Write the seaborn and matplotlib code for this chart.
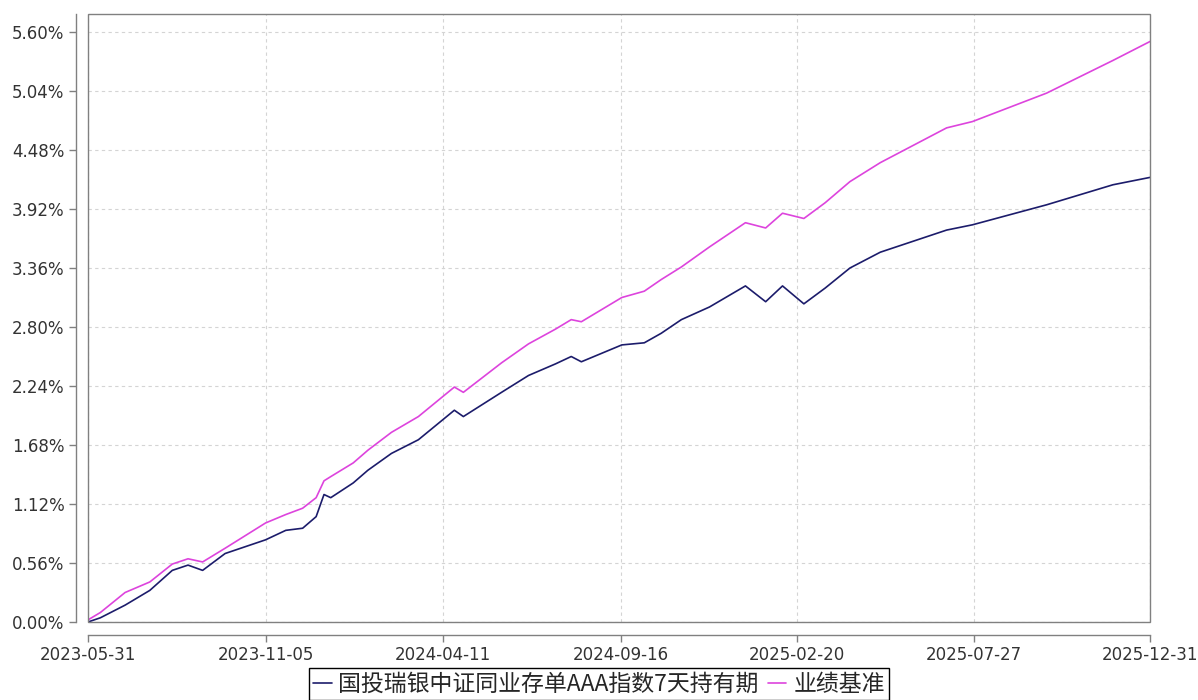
import matplotlib
matplotlib.use("Agg")
import matplotlib.pyplot as plt
from matplotlib.patches import Rectangle
from matplotlib.ticker import FuncFormatter
import numpy as np
import pandas as pd
import seaborn as sns

fund_name = "国投瑞银中证同业存单AAA指数7天持有期"
bench_name = "业绩基准"

dates = [
    "2023-05-31", "2023-06-11", "2023-07-03", "2023-07-25", "2023-08-14",
    "2023-08-28", "2023-09-10", "2023-09-30", "2023-11-05", "2023-11-23",
    "2023-12-08", "2023-12-20", "2023-12-27", "2024-01-02", "2024-01-22",
    "2024-02-04", "2024-02-25", "2024-03-20", "2024-04-21", "2024-04-29",
    "2024-06-02", "2024-06-26", "2024-07-20", "2024-08-03", "2024-08-12",
    "2024-09-17", "2024-10-07", "2024-10-22", "2024-11-09", "2024-12-04",
    "2025-01-05", "2025-01-23", "2025-02-07", "2025-02-26", "2025-03-17",
    "2025-04-08", "2025-05-05", "2025-07-03", "2025-07-26", "2025-09-30",
    "2025-11-28", "2025-12-31",
]
fund = [
    0.00, 0.04, 0.16, 0.30, 0.49, 0.54, 0.49, 0.65, 0.78, 0.87,
    0.89, 1.00, 1.21, 1.18, 1.32, 1.44, 1.60, 1.73, 2.01, 1.95,
    2.18, 2.34, 2.45, 2.52, 2.47, 2.63, 2.65, 2.74, 2.87, 2.99,
    3.19, 3.04, 3.19, 3.02, 3.17, 3.36, 3.51, 3.72, 3.77, 3.96,
    4.15, 4.22,
]
bench = [
    0.02, 0.09, 0.28, 0.38, 0.55, 0.60, 0.57, 0.70, 0.94, 1.02,
    1.08, 1.18, 1.34, 1.38, 1.51, 1.63, 1.80, 1.95, 2.23, 2.18,
    2.46, 2.64, 2.78, 2.87, 2.85, 3.08, 3.14, 3.25, 3.37, 3.56,
    3.79, 3.74, 3.88, 3.83, 3.98, 4.18, 4.36, 4.69, 4.75, 5.02,
    5.33, 5.51,
]
tick_dates = ["2023-05-31", "2023-11-05", "2024-04-11", "2024-09-16",
              "2025-02-20", "2025-07-27", "2025-12-31"]
y_ticks = [0.00, 0.56, 1.12, 1.68, 2.24, 2.80, 3.36, 3.92, 4.48, 5.04, 5.60]

sns.set_theme(style="white")
plt.rcParams["font.family"] = ["Noto Sans CJK SC", "DejaVu Sans"]

df = pd.DataFrame({"date": pd.to_datetime(dates), fund_name: fund, bench_name: bench})
long_df = df.melt(id_vars="date", var_name="series", value_name="value")

navy = "#1c1c6b"
magenta = "#dd44dd"

fig = plt.figure(figsize=(11.98, 7.0), dpi=100)
ax = fig.add_axes([88 / 1198, 78 / 700, 1062 / 1198, 608 / 700])

sns.lineplot(data=long_df, x="date", y="value", hue="series",
             palette=[navy, magenta], linewidth=1.2, ax=ax, legend=False)

ax.set_xlim(pd.Timestamp(dates[0]), pd.Timestamp(dates[-1]))
ax.set_ylim(0, 5.771)
ax.set_xticks(pd.to_datetime(tick_dates))
ax.set_xticklabels(tick_dates)
ax.set_yticks(y_ticks)
ax.yaxis.set_major_formatter(FuncFormatter(lambda v, p: f"{v:.2f}%"))
ax.set_xlabel("")
ax.set_ylabel("")

ax.grid(True, linestyle=(0, (3, 3)), color="#d4d4d4", linewidth=0.8)
for s in ["top", "right"]:
    ax.spines[s].set_visible(False)
for s in ["left", "bottom"]:
    ax.spines[s].set_position(("outward", 9))
    ax.spines[s].set_color("#808080")
    ax.spines[s].set_linewidth(1.0)
ax.add_patch(Rectangle((0, 0), 1, 1, transform=ax.transAxes, fill=False,
                       edgecolor="#808080", linewidth=1.0, clip_on=False, zorder=3))
ax.tick_params(axis="both", which="major", length=5, width=1, color="#808080",
               labelsize=12, labelcolor="#333333", direction="out",
               bottom=True, left=True, pad=3)
for lab in ax.get_xticklabels() + ax.get_yticklabels():
    lab.set_fontfamily("DejaVu Sans")

handles = ax.get_lines()[:2]
leg = fig.legend(handles, [fund_name, bench_name], loc="upper center",
                 bbox_to_anchor=(0.5, 32 / 700), ncol=2, fontsize=16.5,
                 frameon=True, fancybox=False, edgecolor="black", framealpha=1,
                 handlelength=0.8, handletextpad=0.3, columnspacing=0.4,
                 borderpad=0.2, borderaxespad=0)
leg.get_frame().set_linewidth(1.0)

fig.savefig("out.png", dpi=100)
